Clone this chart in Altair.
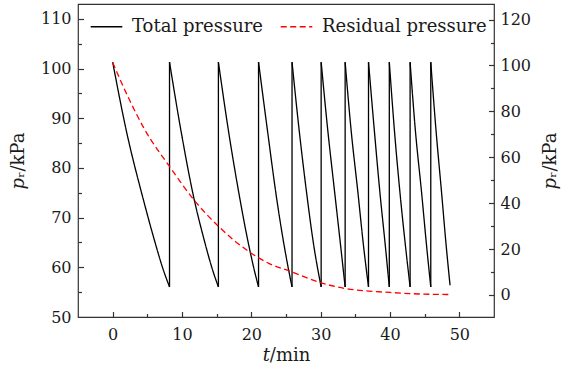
import altair as alt
import pandas as pd

# ---------------- data ----------------
series_names = ["Total pressure", "Residual pressure"]

# total pressure (left axis, kPa): sawtooth, pump-down then re-fill to ~101.3 kPa
total_t = [0, 1.97, 4.47, 5.85, 7.35, 8.2,
           8.2, 9.85, 11.8, 13.05, 14.45, 15.25,
           15.25, 16.7, 18.4, 19.36, 20.45, 21.04,
           21.04, 22.33, 23.7, 24.5, 25.4, 25.87,
           25.87, 26.85, 28.0, 28.97, 30.07,
           30.07, 30.98, 32.05, 32.85, 33.53,
           33.53, 34.35, 35.4, 36.15, 36.9,
           36.9, 37.7, 38.57, 39.3, 39.9,
           39.9, 40.6, 41.46, 42.2, 42.9,
           42.9, 43.62, 44.58, 45.25, 45.88,
           45.88, 46.6, 47.46, 48.08, 48.66]
total_p = [101.3, 87.5, 73.4, 66.3, 59.3, 56.05,
           101.3, 87.5, 73.4, 66.3, 59.3, 56.05,
           101.3, 87.5, 73.4, 66.3, 59.3, 56.05,
           101.3, 87.5, 73.4, 66.3, 59.3, 56.05,
           101.3, 88.2, 74.7, 64.7, 56.05,
           101.3, 88.2, 74.7, 64.7, 56.05,
           101.3, 88.2, 74.7, 64.7, 56.05,
           101.3, 88.2, 74.7, 64.7, 56.05,
           101.3, 88.2, 74.7, 64.7, 56.05,
           101.3, 88.2, 74.7, 64.7, 56.05,
           101.3, 88.2, 74.7, 64.7, 56.4]

# residual pressure (right axis, kPa)
resid_t = [0, 2.3, 4.6, 8.2, 11.9, 15.27, 19.6, 22.5, 25.7, 30.07,
           33.53, 36.9, 40.0, 42.9, 45.9, 48.66]
resid_p = [101.3, 85.8, 72.2, 56.0, 40.8, 29.9, 19.0, 13.8, 10.2, 5.3,
           2.8, 1.7, 1.1, 0.6, 0.3, 0.2]

x_labels = [0, 10, 20, 30, 40, 50]
x_ticks = [0, 5, 10, 15, 20, 25, 30, 35, 40, 45, 50]
left_labels = [50, 60, 70, 80, 90, 100, 110]
left_ticks = [55, 60, 65, 70, 75, 80, 85, 90, 95, 100, 105, 110]
right_labels = [0, 20, 40, 60, 80, 100, 120]
right_ticks = [0, 10, 20, 30, 40, 50, 60, 70, 80, 90, 100, 110, 120]

# ---------------- layout ----------------
W, H = 416, 313
PAD_L, PAD_T = 78, 4
FONT = "DejaVu Serif"
FS = 16       # tick labels
FS_T = 18     # titles / legend
TXT = "#1a1a1a"
FRAME = "#333333"

# split the sawtooth into decay pieces (a new piece starts where the pressure jumps up)
seg, rise_t, rise_lo, rise_hi = [], [], [], []
k = 0
for i in range(len(total_t)):
    if i > 0 and total_p[i] > total_p[i - 1]:
        k += 1
        rise_t.append(total_t[i])
        rise_lo.append(total_p[i - 1])
        rise_hi.append(total_p[i])
    seg.append(k)

total_df = pd.DataFrame({"t": total_t, "p": total_p, "seg": seg,
                         "series": series_names[0],
                         "order": list(range(len(total_t)))})
rise_df = pd.DataFrame({"t": rise_t, "lo": rise_lo, "hi": rise_hi})
resid_df = pd.DataFrame({"t": resid_t, "p": resid_p,
                         "series": series_names[1],
                         "order": list(range(len(resid_t)))})

x_scale = alt.Scale(domain=[-5, 55], nice=False, zero=False)
yl_scale = alt.Scale(domain=[50, 113], nice=False, zero=False)
yr_scale = alt.Scale(domain=[-9.6, 126.8], nice=False, zero=False)


def tick_size(major_step):
    return {"condition": {"test": f"datum.value % {major_step} === 0", "value": 5.5},
            "value": 3.5}


legend = alt.Legend(title=None, orient="none", legendX=12, legendY=6,
                    direction="horizontal", symbolType="stroke", symbolSize=1000,
                    symbolStrokeWidth=1.3, labelFont=FONT, labelFontSize=FS_T,
                    labelColor=TXT, labelOffset=9, labelLimit=0, columnPadding=15,
                    padding=0)

color = alt.Color("series:N", scale=alt.Scale(domain=series_names, range=["black", "red"]),
                  legend=legend)
dash = alt.StrokeDash("series:N", scale=alt.Scale(domain=series_names, range=[[1, 0], [6, 3.5]]),
                      legend=legend)

ax_x_lab = alt.Axis(orient="bottom", values=x_labels, ticks=False, tickSize=0, domain=False,
                    grid=False, labelPadding=9, labelFont=FONT, labelFontSize=FS,
                    labelColor=TXT, title="𝑡/min", titleFont=FONT, titleFontSize=FS_T,
                    titleFontWeight="normal", titleColor=TXT, titleX=W / 2, titleY=38,
                    titleAlign="center", titleBaseline="middle")
ax_x_tick = alt.Axis(orient="top", offset=-H, values=x_ticks, labels=False, domain=False,
                     grid=False, title=None, tickColor=FRAME, tickWidth=1.2,
                     tickSize=tick_size(10))
ax_l_lab = alt.Axis(orient="left", values=left_labels, ticks=False, tickSize=0, domain=False,
                    grid=False, labelPadding=7, labelFont=FONT, labelFontSize=FS,
                    labelColor=TXT, title="𝑝ᵣ/kPa", titleFont=FONT, titleFontSize=FS_T,
                    titleFontWeight="normal", titleColor=TXT, titleAngle=270,
                    titleX=-60, titleY=H / 2, titleAlign="center", titleBaseline="middle")
ax_l_tick = alt.Axis(orient="right", offset=-W, values=left_ticks, labels=False,
                     domain=False, grid=False, title=None, tickColor=FRAME, tickWidth=1.2,
                     tickSize=tick_size(10))
ax_r_lab = alt.Axis(orient="right", values=right_labels, ticks=False, tickSize=0,
                    domain=False, grid=False, labelPadding=6, labelFont=FONT,
                    labelFontSize=FS, labelColor=TXT, title="𝑝ᵣ/kPa", titleFont=FONT,
                    titleFontSize=FS_T, titleFontWeight="normal", titleColor=TXT,
                    titleAngle=270, titleX=56, titleY=H / 2, titleAlign="center",
                    titleBaseline="middle")
ax_r_tick = alt.Axis(orient="left", offset=-W, values=right_ticks, labels=False,
                     domain=False, grid=False, title=None, tickColor=FRAME, tickWidth=1.2,
                     tickSize=tick_size(20))

l1 = alt.Chart(total_df).mark_line(strokeWidth=1.3, interpolate="monotone").encode(
    x=alt.X("t:Q", scale=x_scale, axis=ax_x_lab),
    y=alt.Y("p:Q", scale=yl_scale, axis=ax_l_lab),
    color=color, strokeDash=dash, detail="seg:N", order="order:Q")
l_rise = alt.Chart(rise_df).mark_rule(strokeWidth=1.3, color="black").encode(
    x=alt.X("t:Q", scale=x_scale, axis=None),
    y=alt.Y("lo:Q", scale=yl_scale, axis=None),
    y2="hi:Q")
l2 = alt.Chart(total_df).mark_line(strokeOpacity=0).encode(
    x=alt.X("t:Q", scale=x_scale, axis=ax_x_tick),
    y=alt.Y("p:Q", scale=yl_scale, axis=ax_l_tick),
    order="order:Q")
r1 = alt.Chart(resid_df).mark_line(strokeWidth=1.3, interpolate="monotone").encode(
    x=alt.X("t:Q", scale=x_scale, axis=None),
    y=alt.Y("p:Q", scale=yr_scale, axis=ax_r_lab),
    color=color, strokeDash=dash, order="order:Q")
r2 = alt.Chart(resid_df).mark_line(strokeOpacity=0).encode(
    x=alt.X("t:Q", scale=x_scale, axis=None),
    y=alt.Y("p:Q", scale=yr_scale, axis=ax_r_tick),
    order="order:Q")

left = alt.layer(l1, l_rise, l2).resolve_axis(x="independent", y="independent")
right = alt.layer(r1, r2).resolve_axis(x="independent", y="independent")

chart = alt.layer(left, right).resolve_scale(y="independent").resolve_axis(
    x="independent", y="independent"
).properties(
    width=W, height=H,
    autosize=alt.AutoSizeParams(type="none"),
    padding={"left": PAD_L, "top": PAD_T, "right": 566 - PAD_L - W, "bottom": 371 - PAD_T - H},
    background="white",
).configure_view(stroke=FRAME, strokeWidth=1.2)

chart.save("out.html", embed_options={"renderer": "svg", "actions": False})
